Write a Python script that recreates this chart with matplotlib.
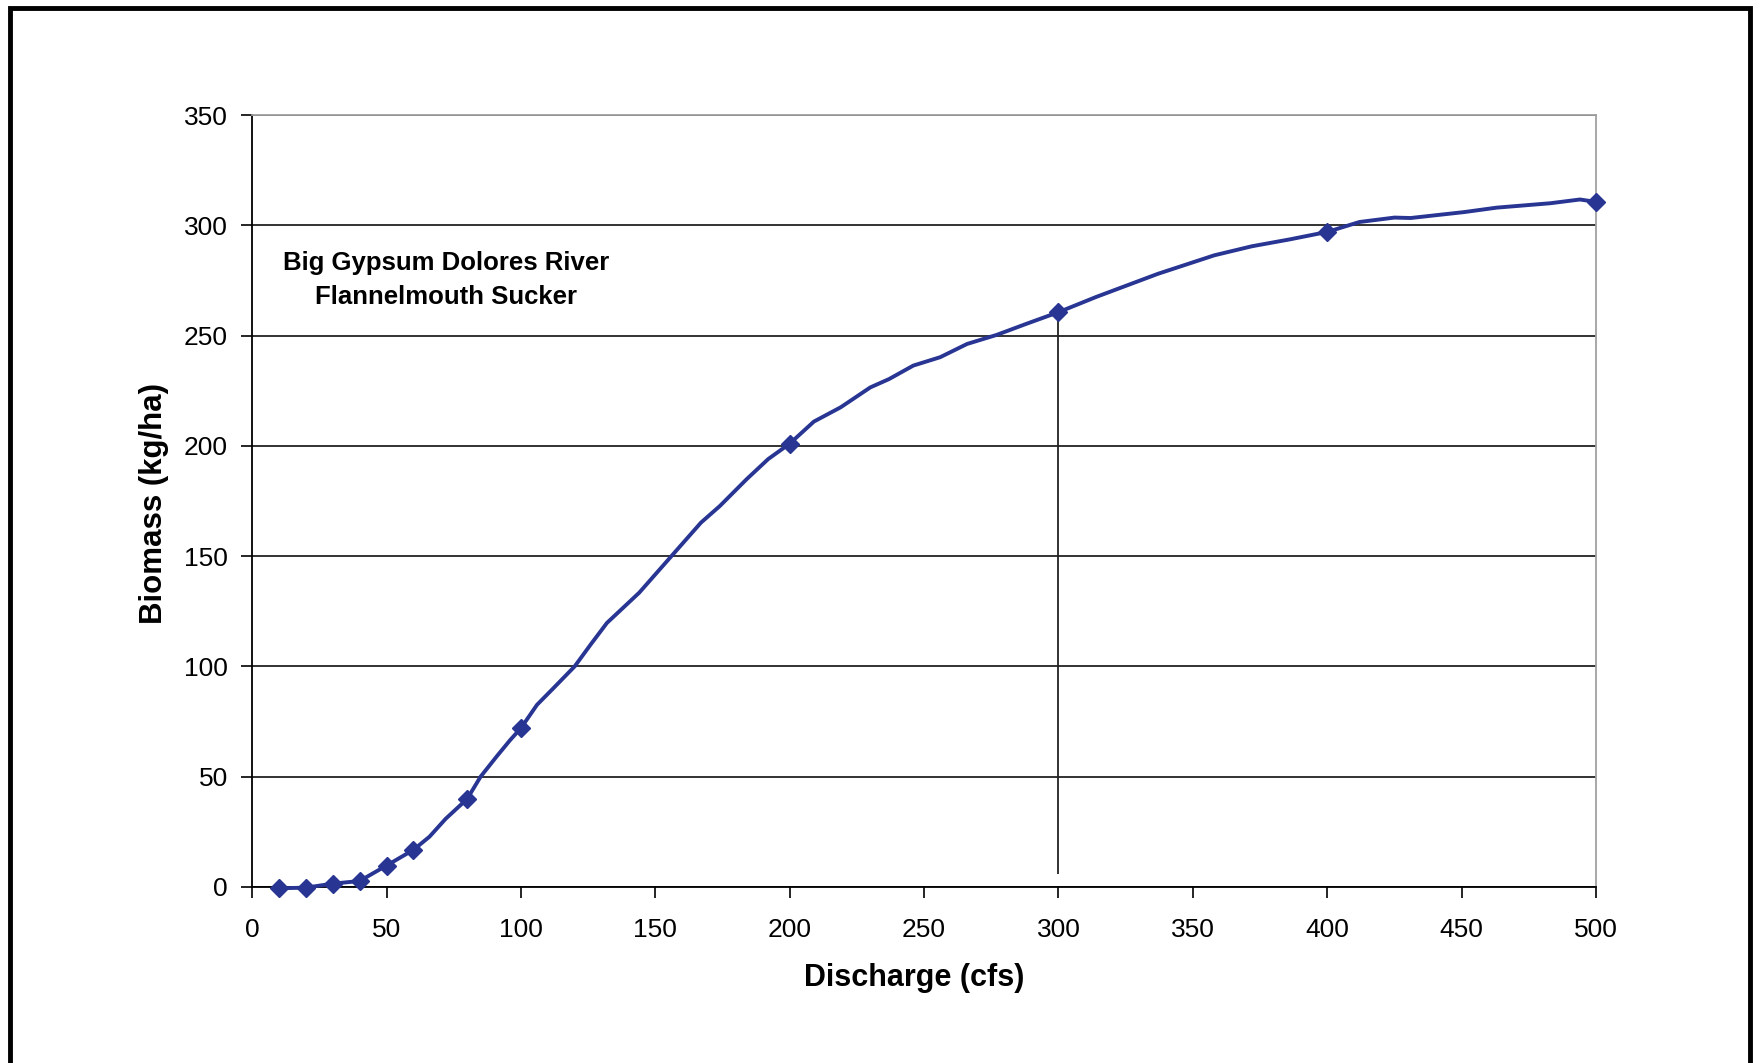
import matplotlib
matplotlib.use("Agg")
import matplotlib.pyplot as plt
import matplotlib.patches as mpatches
import numpy as np

matplotlib.rcParams['font.family'] = ['Liberation Sans', 'DejaVu Sans']

# curve as drawn (discharge in cfs, biomass in kg/ha)
curve_x = [10, 20, 30, 40, 50, 60, 66, 72, 80, 85, 91, 96, 100, 106, 112, 120, 126,
           132, 144, 156, 167, 174, 184, 192, 200, 209, 219, 230, 237, 246, 256, 266,
           277, 288, 300, 314, 337, 358, 372, 386, 400, 412, 425, 431, 451, 463, 483,
           494, 500]
curve_y = [-0.6, -0.3, 1.5, 2.7, 9.7, 16.8, 22.8, 30.9, 39.9, 50.0, 59.2, 66.6, 72.0,
           82.6, 90.0, 100.0, 110.0, 119.7, 133.4, 150.0, 165.2, 172.7, 184.9, 194.0,
           201.0, 211.0, 217.5, 226.5, 230.3, 236.4, 240.2, 246.2, 250.3, 255.3, 260.6,
           267.5, 278.0, 286.4, 290.5, 293.6, 297.0, 301.5, 303.5, 303.3, 306.0, 308.0,
           310.0, 311.7, 310.6]

# diamond markers
mark_x = [10, 20, 30, 40, 50, 60, 80, 100, 200, 300, 400, 500]
mark_y = [-0.6, -0.3, 1.5, 2.7, 9.7, 16.8, 39.9, 72.0, 201.0, 260.6, 297.0, 310.6]

# drop line at 300 cfs
ref_x = 300
ref_bottom = 6
ref_top = 260.6

x_ticks = np.arange(0, 501, 50)
y_ticks = np.arange(0, 351, 50)

line_color = '#283593'

fig = plt.figure(figsize=(17.63, 10.63), dpi=100)
ax = fig.add_axes([0.143, 0.1656, 0.7623, 0.7262])

ax.set_xlim(0, 500)
ax.set_ylim(0, 350)
ax.set_xticks(x_ticks)
ax.set_yticks(y_ticks)

ax.yaxis.grid(True, color='#222222', linewidth=1.3)
ax.set_axisbelow(True)

ax.vlines(ref_x, ref_bottom, ref_top, color='#222222', linewidth=1.3)

ax.plot(curve_x, curve_y, color=line_color, linewidth=2.8, clip_on=False, zorder=3,
        solid_joinstyle='round')
ax.plot(mark_x, mark_y, linestyle='none', marker='D', markersize=9,
        color=line_color, clip_on=False, zorder=4)

for side in ['top', 'right']:
    ax.spines[side].set_color('#a0a0a0')
    ax.spines[side].set_linewidth(1.3)
for side in ['left', 'bottom']:
    ax.spines[side].set_color('black')
    ax.spines[side].set_linewidth(1.3)

ax.tick_params(axis='both', direction='out', length=8, width=1.2, color='black',
               labelsize=19)
ax.tick_params(axis='x', pad=14.5)
ax.tick_params(axis='y', pad=9.5)

ax.set_xlabel('Discharge (cfs)', fontsize=22, fontweight='bold', va='center')
ax.xaxis.set_label_coords(0.493, -0.118)
ax.set_ylabel('Biomass (kg/ha)', fontsize=22.5, fontweight='bold', va='center')
ax.yaxis.set_label_coords(-0.073, 0.497)

ax.text(72, 275.2, 'Big Gypsum Dolores River\nFlannelmouth Sucker', ha='center',
        va='center', fontsize=18.5, fontweight='bold', linespacing=1.5)

# outer frame, its bottom edge runs off the picture
frame = mpatches.Rectangle((10 / 1763, -0.1), 1740 / 1763, 1.1 - 8 / 1063,
                           transform=fig.transFigure, fill=False,
                           edgecolor='black', linewidth=3.5, clip_on=False)
fig.patches.append(frame)

fig.savefig('out.png', dpi=100)
